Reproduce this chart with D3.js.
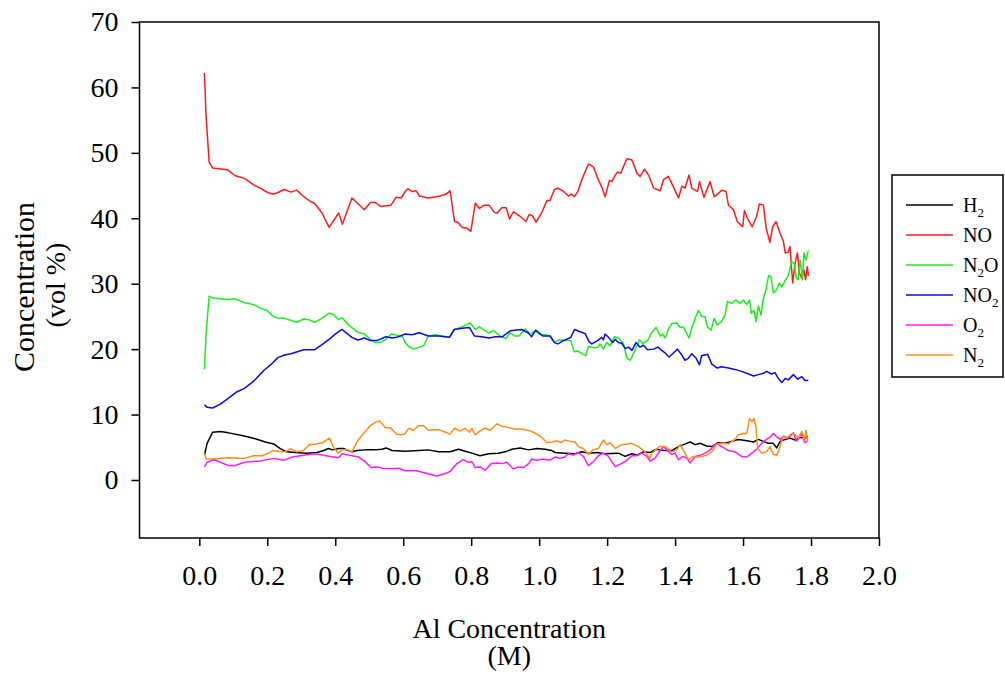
<!DOCTYPE html>
<html>
<head>
<meta charset="utf-8">
<script src="https://cdn.jsdelivr.net/npm/d3@7"></script>
<style>
  body { margin: 0; background: #fff; }
  svg text { font-family: "Liberation Serif", "Times New Roman", serif; fill: #000; }
</style>
</head>
<body>
<svg id="chart" width="1005" height="680"></svg>
<script>
// gas composition vs Al concentration
var H2 = [[0.015,3.8],[0.023,5.6],[0.039,7.3],[0.062,7.4],[0.086,7.2],[0.126,6.8],[0.165,6.3],[0.194,5.8],[0.219,5.5],[0.238,4.8],[0.258,4.3],[0.282,4.2],[0.317,4.1],[0.346,4.2],[0.366,4.5],[0.38,4.8],[0.392,4.6],[0.41,4.8],[0.424,4.8],[0.449,4.3],[0.464,4.5],[0.488,4.6],[0.518,4.6],[0.537,4.7],[0.55,4.9],[0.567,4.5],[0.606,4.4],[0.645,4.5],[0.674,4.6],[0.704,4.3],[0.738,4.3],[0.763,4.7],[0.782,4.4],[0.802,4.1],[0.826,3.7],[0.851,4.0],[0.88,4.1],[0.9,4.3],[0.92,4.7],[0.944,4.9],[0.969,4.6],[0.993,4.8],[1.018,4.7],[1.037,4.5],[1.047,4.2],[1.076,4.1],[1.106,4.0],[1.126,4.3],[1.145,4.1],[1.17,4.2],[1.194,4.0],[1.233,4.1],[1.253,3.6],[1.273,4.0],[1.288,3.8],[1.307,4.3],[1.326,4.2],[1.346,4.7],[1.366,4.5],[1.39,4.5],[1.41,5.1],[1.425,5.4],[1.444,5.8],[1.459,5.4],[1.474,5.6],[1.493,5.2],[1.508,5.1],[1.527,5.7],[1.547,5.6],[1.566,5.9],[1.586,6.2],[1.611,6.0],[1.631,5.8],[1.645,6.2],[1.66,5.9],[1.675,5.6],[1.689,5.6],[1.699,4.9],[1.709,5.9],[1.724,6.2],[1.738,6.4],[1.753,6.1],[1.768,6.5],[1.782,6.4],[1.79,6.7]];

var NO = [[0.015,62.2],[0.02,55.5],[0.029,48.6],[0.039,47.7],[0.083,47.4],[0.106,46.5],[0.133,46.1],[0.16,45.1],[0.179,44.6],[0.202,43.9],[0.217,43.7],[0.23,43.9],[0.25,44.4],[0.27,44.0],[0.287,44.3],[0.307,43.3],[0.326,42.6],[0.339,42.3],[0.361,40.8],[0.382,38.6],[0.41,40.8],[0.421,39.1],[0.449,43.1],[0.486,41.3],[0.503,42.4],[0.518,42.4],[0.534,41.8],[0.564,42.0],[0.579,43.2],[0.594,43.1],[0.606,44.1],[0.614,44.5],[0.626,44.1],[0.638,44.2],[0.648,43.4],[0.674,43.1],[0.709,43.4],[0.726,43.7],[0.738,44.2],[0.751,39.5],[0.761,39.4],[0.774,38.6],[0.787,38.5],[0.799,38.0],[0.812,42.3],[0.824,41.5],[0.839,42.0],[0.853,42.0],[0.868,40.9],[0.877,40.8],[0.89,41.6],[0.903,41.6],[0.913,39.9],[0.924,41.0],[0.944,40.3],[0.961,39.5],[0.971,40.6],[0.98,40.4],[0.991,39.4],[1.006,40.7],[1.023,42.7],[1.032,42.7],[1.045,44.4],[1.055,44.6],[1.072,44.1],[1.086,43.4],[1.094,43.7],[1.104,43.3],[1.114,44.1],[1.127,46.1],[1.145,48.3],[1.16,47.8],[1.174,45.9],[1.184,44.8],[1.194,43.3],[1.207,45.8],[1.214,45.6],[1.224,46.6],[1.231,47.1],[1.24,46.9],[1.258,49.1],[1.273,48.9],[1.288,46.9],[1.297,46.4],[1.31,47.5],[1.322,46.6],[1.337,44.6],[1.356,44.2],[1.366,45.9],[1.38,46.4],[1.395,44.8],[1.41,43.1],[1.42,44.9],[1.429,44.6],[1.441,46.6],[1.449,44.6],[1.466,44.1],[1.472,45.6],[1.485,43.2],[1.503,45.6],[1.515,43.3],[1.524,43.6],[1.537,44.3],[1.55,44.1],[1.557,42.0],[1.572,41.3],[1.583,39.5],[1.599,38.7],[1.604,41.2],[1.613,40.0],[1.627,38.7],[1.64,40.3],[1.648,42.2],[1.66,42.0],[1.668,38.5],[1.679,36.3],[1.687,38.7],[1.697,39.5],[1.709,37.7],[1.719,36.4],[1.724,34.7],[1.733,34.8],[1.738,35.7],[1.746,30.1],[1.753,33.1],[1.76,34.7],[1.766,31.6],[1.773,30.8],[1.779,32.1],[1.784,30.6],[1.789,32.6],[1.792,31.2]];

var N2O = [[0.015,16.9],[0.02,22.4],[0.029,28.1],[0.039,27.8],[0.083,27.6],[0.104,27.7],[0.133,27.1],[0.16,26.8],[0.179,26.3],[0.199,25.9],[0.217,25.0],[0.233,24.7],[0.251,24.7],[0.287,24.1],[0.307,24.6],[0.322,24.5],[0.339,24.1],[0.361,24.7],[0.382,25.5],[0.395,25.3],[0.41,24.5],[0.42,24.8],[0.439,23.7],[0.466,22.6],[0.486,22.3],[0.503,21.5],[0.518,21.0],[0.532,21.0],[0.549,21.5],[0.565,22.3],[0.586,22.1],[0.598,21.9],[0.606,21.0],[0.616,20.4],[0.63,20.0],[0.66,20.5],[0.674,22.0],[0.694,22.2],[0.714,22.0],[0.736,21.8],[0.751,23.0],[0.773,23.4],[0.797,24.0],[0.812,23.0],[0.824,23.4],[0.851,22.5],[0.866,22.8],[0.885,22.0],[0.902,21.6],[0.915,22.5],[0.927,22.0],[0.941,22.0],[0.959,23.1],[0.974,22.3],[0.988,22.8],[1.003,22.2],[1.018,22.2],[1.032,22.0],[1.045,21.1],[1.059,21.4],[1.076,21.3],[1.093,21.3],[1.103,19.6],[1.114,19.7],[1.126,19.3],[1.137,19.0],[1.145,20.4],[1.162,20.2],[1.173,20.3],[1.179,20.8],[1.189,20.0],[1.199,21.0],[1.209,20.5],[1.221,21.9],[1.233,21.7],[1.248,20.9],[1.258,18.6],[1.268,18.3],[1.279,19.5],[1.295,21.4],[1.305,20.9],[1.319,21.3],[1.331,22.5],[1.344,23.3],[1.356,22.0],[1.364,22.3],[1.371,21.7],[1.38,23.0],[1.39,23.9],[1.405,24.0],[1.415,23.3],[1.424,23.4],[1.441,21.7],[1.449,23.2],[1.462,25.1],[1.469,25.9],[1.478,25.0],[1.488,25.0],[1.495,23.4],[1.506,22.9],[1.515,24.7],[1.524,23.7],[1.535,24.1],[1.547,25.2],[1.554,27.3],[1.566,27.0],[1.579,27.5],[1.591,27.0],[1.601,27.5],[1.611,26.8],[1.619,27.5],[1.624,25.5],[1.632,25.9],[1.638,24.2],[1.645,26.6],[1.653,25.2],[1.66,27.8],[1.668,29.2],[1.675,31.2],[1.682,31.1],[1.689,28.6],[1.699,29.1],[1.707,30.1],[1.714,29.5],[1.724,30.5],[1.733,31.2],[1.743,33.4],[1.751,33.0],[1.757,30.8],[1.762,30.6],[1.768,33.6],[1.775,30.6],[1.779,34.7],[1.785,33.6],[1.792,35.1]];

var NO2 = [[0.015,11.5],[0.023,11.1],[0.039,11.0],[0.062,11.6],[0.086,12.5],[0.108,13.4],[0.133,14.0],[0.16,15.1],[0.189,16.7],[0.212,17.7],[0.231,18.7],[0.251,19.1],[0.27,19.3],[0.307,19.9],[0.339,19.9],[0.361,20.7],[0.382,21.5],[0.4,22.3],[0.42,23.0],[0.437,22.3],[0.449,21.8],[0.467,21.4],[0.486,21.7],[0.503,21.3],[0.523,21.3],[0.549,21.9],[0.567,21.7],[0.581,21.8],[0.606,22.3],[0.626,22.2],[0.647,22.5],[0.674,22.0],[0.704,22.0],[0.736,21.8],[0.75,23.0],[0.773,23.2],[0.795,23.3],[0.81,22.0],[0.831,21.9],[0.853,21.7],[0.871,21.9],[0.892,21.9],[0.915,22.8],[0.949,23.0],[0.967,22.5],[0.978,21.9],[0.99,22.9],[1.011,22.0],[1.032,22.0],[1.045,21.0],[1.055,20.8],[1.076,21.4],[1.093,21.8],[1.104,23.0],[1.118,22.7],[1.135,22.4],[1.147,21.1],[1.155,20.8],[1.172,21.3],[1.184,21.8],[1.189,21.4],[1.194,22.3],[1.206,21.7],[1.216,21.0],[1.224,21.5],[1.233,21.0],[1.243,20.9],[1.253,20.1],[1.263,20.3],[1.273,19.8],[1.285,21.0],[1.297,20.3],[1.307,20.6],[1.319,19.9],[1.337,20.0],[1.349,20.3],[1.361,19.8],[1.371,19.4],[1.382,18.8],[1.393,19.3],[1.407,20.0],[1.417,19.3],[1.429,18.3],[1.439,18.6],[1.449,19.3],[1.462,18.6],[1.472,17.6],[1.478,19.0],[1.496,19.2],[1.508,17.7],[1.524,17.1],[1.537,17.3],[1.557,17.1],[1.576,16.9],[1.596,16.6],[1.616,16.2],[1.631,15.9],[1.645,16.1],[1.66,16.3],[1.669,16.6],[1.684,16.2],[1.694,16.4],[1.704,15.5],[1.714,14.9],[1.724,15.5],[1.733,15.3],[1.748,16.1],[1.761,15.4],[1.773,15.8],[1.782,15.2],[1.792,15.2]];

var O2 = [[0.015,2.0],[0.023,2.7],[0.042,3.1],[0.062,2.7],[0.086,2.2],[0.106,2.2],[0.133,2.7],[0.179,2.9],[0.219,3.3],[0.248,3.0],[0.273,3.5],[0.312,3.8],[0.341,4.0],[0.361,3.8],[0.385,3.6],[0.41,3.4],[0.42,4.0],[0.449,3.7],[0.469,3.5],[0.488,2.8],[0.505,1.9],[0.523,2.0],[0.54,1.8],[0.567,1.7],[0.586,1.8],[0.606,1.4],[0.64,1.4],[0.67,1.0],[0.699,0.6],[0.719,0.9],[0.738,1.3],[0.758,2.5],[0.776,3.1],[0.792,2.7],[0.802,2.8],[0.812,1.9],[0.826,2.0],[0.841,1.5],[0.859,2.5],[0.876,2.6],[0.89,2.5],[0.905,2.7],[0.924,1.7],[0.939,2.0],[0.954,1.9],[0.969,2.5],[0.978,3.2],[0.993,3.0],[1.01,3.2],[1.032,3.0],[1.047,3.5],[1.062,3.3],[1.076,3.5],[1.086,4.0],[1.101,3.8],[1.115,4.2],[1.13,3.6],[1.145,2.2],[1.16,2.8],[1.174,3.7],[1.189,4.1],[1.204,3.6],[1.224,2.0],[1.238,2.4],[1.253,2.8],[1.273,3.7],[1.288,3.7],[1.302,4.1],[1.317,3.6],[1.326,2.9],[1.341,3.3],[1.356,4.5],[1.366,5.1],[1.376,4.6],[1.39,3.9],[1.4,4.1],[1.41,3.1],[1.423,3.6],[1.435,3.3],[1.444,2.6],[1.459,3.6],[1.474,3.8],[1.489,4.1],[1.503,4.6],[1.522,5.6],[1.537,5.1],[1.557,4.5],[1.576,4.3],[1.596,3.6],[1.611,3.5],[1.626,4.1],[1.64,4.7],[1.655,5.6],[1.669,6.2],[1.679,6.5],[1.689,7.1],[1.699,6.6],[1.709,6.2],[1.719,6.7],[1.733,6.4],[1.748,7.2],[1.757,5.9],[1.773,7.0],[1.782,5.7],[1.79,6.0]];

var N2 = [[0.015,4.1],[0.02,3.2],[0.042,3.2],[0.086,3.4],[0.133,3.3],[0.16,3.7],[0.185,3.7],[0.199,4.0],[0.216,4.5],[0.238,4.3],[0.253,4.3],[0.268,4.8],[0.287,4.3],[0.307,4.5],[0.324,5.4],[0.343,5.5],[0.363,5.7],[0.383,6.4],[0.395,5.0],[0.408,4.1],[0.42,4.6],[0.437,4.6],[0.449,4.3],[0.466,6.0],[0.483,7.1],[0.503,8.3],[0.518,8.8],[0.532,9.0],[0.547,8.0],[0.562,8.0],[0.581,7.0],[0.596,6.9],[0.606,7.1],[0.616,7.9],[0.63,7.6],[0.645,8.3],[0.66,8.3],[0.674,7.6],[0.704,7.7],[0.719,7.4],[0.738,7.0],[0.751,7.9],[0.768,7.5],[0.782,7.9],[0.795,7.3],[0.802,7.9],[0.812,6.9],[0.826,7.5],[0.841,7.9],[0.856,7.6],[0.876,8.6],[0.89,8.2],[0.91,8.0],[0.929,7.8],[0.949,7.8],[0.974,7.5],[0.99,7.1],[1.006,6.6],[1.023,5.7],[1.037,5.8],[1.052,6.0],[1.065,5.7],[1.075,6.1],[1.091,5.9],[1.106,5.8],[1.115,5.1],[1.13,4.8],[1.145,3.9],[1.158,4.6],[1.174,4.8],[1.189,6.1],[1.199,5.4],[1.209,5.7],[1.224,4.8],[1.243,5.4],[1.273,5.6],[1.292,5.1],[1.312,4.3],[1.325,3.3],[1.334,4.2],[1.354,5.1],[1.371,5.1],[1.39,4.3],[1.405,4.6],[1.415,5.4],[1.429,4.1],[1.439,3.1],[1.454,3.6],[1.474,3.5],[1.493,3.8],[1.508,4.3],[1.522,5.4],[1.537,5.6],[1.557,5.5],[1.576,6.2],[1.586,6.9],[1.601,7.1],[1.611,7.1],[1.619,9.4],[1.626,8.9],[1.632,9.4],[1.638,8.1],[1.643,4.8],[1.655,4.1],[1.669,4.3],[1.679,5.1],[1.689,3.9],[1.699,3.8],[1.709,5.1],[1.717,6.6],[1.729,6.4],[1.743,7.1],[1.753,6.9],[1.762,6.4],[1.773,7.4],[1.781,6.1],[1.785,7.6],[1.79,6.0]];

var xTicks = [0.0, 0.2, 0.4, 0.6, 0.8, 1.0, 1.2, 1.4, 1.6, 1.8, 2.0];
var yTicks = [0, 10, 20, 30, 40, 50, 60, 70];

// legend order: label pieces (text, subscript, text) and colour
var series = [
  {data: H2,  label: ["H", "2", ""],  color: "#000000"},
  {data: NO,  label: ["NO", "", ""],  color: "#ff1a1a"},
  {data: N2O, label: ["N", "2", "O"], color: "#1aee1a"},
  {data: NO2, label: ["NO", "2", ""], color: "#0a0aee"},
  {data: O2,  label: ["O", "2", ""],  color: "#ff1aff"},
  {data: N2,  label: ["N", "2", ""],  color: "#ff8c1a"}
];

var svg = d3.select("#chart");
var plotL = 139.5, plotR = 879, plotT = 22, plotB = 538;

var x = d3.scaleLinear().domain([-0.176, 2.0]).range([plotL, plotR]);
var y = d3.scaleLinear().domain([-8.87, 70]).range([plotB, plotT]);

// frame
svg.append("rect")
  .attr("x", plotL).attr("y", plotT)
  .attr("width", plotR - plotL).attr("height", plotB - plotT)
  .attr("fill", "none").attr("stroke", "#000").attr("stroke-width", 1.5);

var xAxis = svg.append("g")
  .attr("transform", "translate(0," + plotB + ")")
  .call(d3.axisBottom(x).tickValues(xTicks).tickSize(8).tickPadding(14)
    .tickFormat(d3.format(".1f")));
var yAxis = svg.append("g")
  .attr("transform", "translate(" + plotL + ",0)")
  .call(d3.axisLeft(y).tickValues(yTicks).tickSize(8).tickPadding(13));

[xAxis, yAxis].forEach(function (a) {
  a.select(".domain").remove();
  a.selectAll("line").attr("stroke", "#000").attr("stroke-width", 1.5);
  a.selectAll("text").attr("font-size", "28px").attr("fill", "#000")
    .style("font-family", '"Liberation Serif", "Times New Roman", serif');
});
xAxis.selectAll("text").attr("dy", "0.9em");

var line = d3.line()
  .x(function (d) { return x(d[0]); })
  .y(function (d) { return y(d[1]); });

var plot = svg.append("g");
series.forEach(function (s) {
  plot.append("path")
    .datum(s.data)
    .attr("d", line)
    .attr("fill", "none")
    .attr("stroke", s.color)
    .attr("stroke-width", 1.5)
    .attr("stroke-linejoin", "round");
});

// axis titles
svg.append("text")
  .attr("x", (plotL + plotR) / 2).attr("y", 638)
  .attr("text-anchor", "middle").attr("font-size", "28px")
  .text("Al Concentration");
svg.append("text")
  .attr("x", (plotL + plotR) / 2).attr("y", 665)
  .attr("text-anchor", "middle").attr("font-size", "28px")
  .text("(M)");

svg.append("text")
  .attr("transform", "translate(34,287) rotate(-90)")
  .attr("text-anchor", "middle").attr("font-size", "30px")
  .text("Concentration");
svg.append("text")
  .attr("transform", "translate(65,285) rotate(-90)")
  .attr("text-anchor", "middle").attr("font-size", "28px")
  .text("(vol %)");

// legend
var lg = svg.append("g").attr("transform", "translate(892,175)");
lg.append("rect")
  .attr("x", 0).attr("y", 0).attr("width", 111).attr("height", 202)
  .attr("fill", "#fff").attr("stroke", "#000").attr("stroke-width", 1.5);

var rows = lg.selectAll(".row").data(series).enter().append("g")
  .attr("class", "row")
  .attr("transform", function (d, i) { return "translate(0," + (30 + i * 30) + ")"; });

rows.append("line")
  .attr("x1", 14).attr("x2", 61)
  .attr("stroke", function (d) { return d.color; })
  .attr("stroke-width", 1.5);

var lt = rows.append("text")
  .attr("x", 71).attr("y", 7)
  .attr("font-size", "20px");
lt.append("tspan").text(function (d) { return d.label[0]; });
lt.append("tspan")
  .attr("font-size", "13px").attr("dy", 5)
  .text(function (d) { return d.label[1]; });
lt.append("tspan")
  .attr("dy", -5)
  .text(function (d) { return d.label[2]; });
</script>
</body>
</html>
